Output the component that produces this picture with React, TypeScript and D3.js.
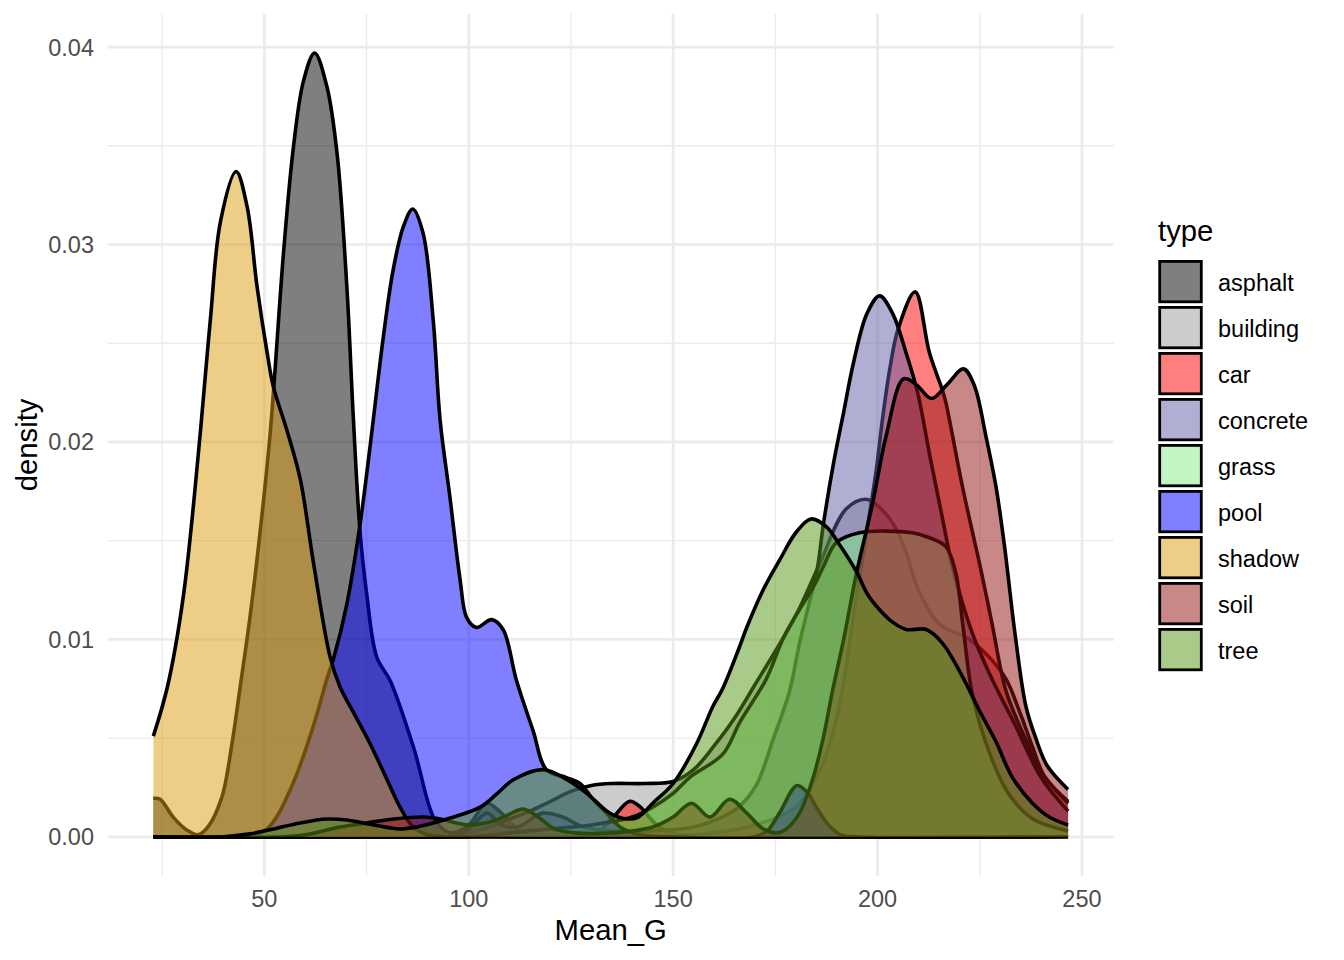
import React from 'react';
import { scaleLinear, area, line, curveCatmullRom, max, min } from 'd3';

type Pt = [number, number];

// factor order = drawing order
const types = ['asphalt', 'building', 'car', 'concrete', 'grass', 'pool', 'shadow', 'soil', 'tree'];
const fillColors = ['#000000', '#999999', '#ff0000', '#615da8', '#83eb83', '#0000ff', '#dd9b0f', '#911111', '#559515'];

const xTicks = [50, 100, 150, 200, 250];
const xMinor = [25, 75, 125, 175, 225];
const yTicks = [0, 0.01, 0.02, 0.03, 0.04];
const yMinor = [0.005, 0.015, 0.025, 0.035];

// density curves: [Mean_G, density]
const asphalt: Pt[] = [
  [22.85, 0.00195], [24.5, 0.0019], [27.7, 0.001], [31, 0.00035], [33.8, 0.0001], [36.2, 0.0005],
  [39.6, 0.002], [42, 0.0046], [44.1, 0.0076], [46.6, 0.0113], [49, 0.0155], [51.5, 0.0206],
  [54.7, 0.0296], [57.1, 0.0349], [59.6, 0.0383], [62.3, 0.0397], [65.3, 0.038], [67.8, 0.0346],
  [70.2, 0.0278], [71.8, 0.0211], [73.4, 0.0155], [75.1, 0.0122], [77.5, 0.0091], [80.8, 0.0079],
  [86.4, 0.0046], [92.2, 0.0007], [96, 0.0002], [100, 0.0006], [104.4, 0.0017], [108, 0.0012],
  [112, 0.0004], [118, 0.0001], [125, 0], [246.6, 0],
];

const building: Pt[] = [
  [22.85, 0], [95, 0], [100, 0.0002], [105, 0.0005], [110, 0.0009], [115, 0.0013], [120, 0.0018],
  [125, 0.0023], [130, 0.0026], [135, 0.0027], [143, 0.0027], [150, 0.0028], [155, 0.0034],
  [160, 0.0046], [165, 0.006], [170, 0.0077], [175, 0.0094], [180, 0.0112], [185.8, 0.0138],
  [192.3, 0.0166], [197.2, 0.0171], [200.4, 0.0167], [203.7, 0.0159], [207, 0.0144], [210, 0.0125],
  [215, 0.0108], [222.4, 0.01], [227.3, 0.0091], [231.4, 0.008], [235, 0.0062], [238, 0.0045],
  [241, 0.003], [246.6, 0.0018],
];

const car: Pt[] = [
  [22.85, 0], [128, 0], [132, 0.0003], [135, 0.0009], [139.4, 0.0018], [142, 0.0015], [145, 0.0008],
  [148, 0.0003], [152, 0.0001], [160, 0.0002], [170, 0.0006], [180, 0.0015], [185, 0.003],
  [188, 0.0045], [191, 0.007], [194, 0.011], [197, 0.015], [199.7, 0.0186], [201.3, 0.0213],
  [203, 0.0237], [205, 0.0257], [209.2, 0.0276], [212.7, 0.0245], [215.9, 0.0226], [216.7, 0.022],
  [220.8, 0.0177], [225.3, 0.0135], [228, 0.0108], [231.4, 0.0074], [236.3, 0.0049], [240, 0.0033],
  [246.6, 0.0017],
];

const concrete: Pt[] = [
  [22.85, 0], [95, 0], [100, 0.0004], [104.5, 0.0012], [108, 0.0006], [112, 0.0005], [118, 0.0012],
  [123, 0.001], [128, 0.0005], [135, 0.0003], [145, 0.0003], [155, 0.0005], [162, 0.001],
  [166, 0.0015], [170.3, 0.0026], [174.4, 0.0049], [178.5, 0.0074], [180.9, 0.0098], [183, 0.0116],
  [185.2, 0.0135], [186.8, 0.0159], [189.3, 0.019], [191.7, 0.0215], [194.1, 0.024], [197.4, 0.0265],
  [200.5, 0.0274], [203.7, 0.0265], [207, 0.0245], [209.8, 0.0225], [212.7, 0.0194], [216, 0.016],
  [218.3, 0.0137], [223.2, 0.0103], [227.3, 0.0083], [233.8, 0.0056], [240, 0.003], [246.6, 0.0013],
];

const grass: Pt[] = [
  [22.85, 0], [100, 0], [110, 0.0002], [120, 0.0004], [130, 0.0006], [140, 0.001], [145, 0.0015],
  [150, 0.0022], [154, 0.003], [162.2, 0.0042], [166.3, 0.0058], [172.8, 0.008], [176.8, 0.01],
  [180, 0.0112], [184.4, 0.0127], [187, 0.0138], [189.9, 0.0149], [195.6, 0.0154], [208.5, 0.0154],
  [212, 0.0152], [216.7, 0.0147], [219.1, 0.0134], [221, 0.0105], [223.2, 0.0072], [227.3, 0.0043],
  [232, 0.0022], [238, 0.0009], [246.6, 0.0003],
];

const pool: Pt[] = [
  [22.85, 0], [45, 0], [48, 0.0001], [50.7, 0.0004], [53, 0.001], [55.5, 0.002], [58, 0.0032],
  [60.4, 0.0046], [63, 0.0063], [65.3, 0.008], [66.9, 0.009], [70.2, 0.0118], [73.4, 0.0158],
  [76, 0.02], [79.1, 0.0253], [81.5, 0.0287], [84, 0.0309], [86.3, 0.0318], [88.8, 0.0306],
  [91.3, 0.0262], [93, 0.0211], [95.4, 0.0172], [97.9, 0.013], [99.5, 0.0111], [101.9, 0.0106],
  [105.6, 0.011], [108.4, 0.0105], [111.7, 0.0079], [115.7, 0.0054], [119, 0.0034], [123.9, 0.003],
  [127.2, 0.0027], [130.4, 0.0019], [133.7, 0.0012], [137, 0.0005], [142, 0.0001], [150, 0],
  [170, 0], [173, 0.0003], [176, 0.0012], [180.3, 0.0026], [183, 0.0022], [185, 0.0015],
  [188, 0.0006], [191, 0.0001], [195, 0], [246.6, 0],
];

const shadow: Pt[] = [
  [22.85, 0.0051], [26.3, 0.0076], [30.2, 0.0122], [34.4, 0.0206], [36.8, 0.0262], [39.3, 0.0312],
  [43.1, 0.0337], [45.8, 0.0319], [48.2, 0.0279], [50.7, 0.0245], [52.2, 0.0228], [55.5, 0.0206],
  [58.8, 0.0181], [62, 0.0139], [66.1, 0.0091], [68.5, 0.0076], [71.8, 0.0063], [75.9, 0.0047],
  [80, 0.0029], [83.2, 0.0015], [86.4, 0.0005], [90, 0.0001], [95, 0], [246.6, 0],
];

const soil: Pt[] = [
  [22.85, 0], [55, 0], [60, 0.0001], [68.5, 0.0005], [75, 0.0007], [81.6, 0.0009], [89, 0.001],
  [93, 0.0009], [100, 0.0006], [106, 0.0008], [109.5, 0.0011], [113.3, 0.0014], [117, 0.001],
  [121, 0.0004], [126, 0.0002], [135, 0.0002], [145, 0.0005], [150, 0.001], [154.5, 0.0017],
  [159, 0.001], [163.8, 0.0019], [168, 0.0012], [172, 0.0004], [175.5, 0.0002], [177.7, 0.0004],
  [180.9, 0.0012], [184.1, 0.0029], [186.6, 0.0049], [189, 0.0074], [191.7, 0.01], [194.9, 0.0134],
  [198.8, 0.0169], [202.1, 0.0203], [206.4, 0.0232], [209.5, 0.0229], [213.2, 0.0222], [217, 0.0229],
  [221, 0.0237], [223.6, 0.0229], [226.5, 0.0203], [229, 0.0177], [231, 0.0148], [233.8, 0.01],
  [236.3, 0.0066], [238.7, 0.005], [241.5, 0.0036], [246.6, 0.0024],
];

const tree: Pt[] = [
  [22.85, 0], [40, 0], [46.5, 0.00015], [52.3, 0.0004], [58.7, 0.0007], [65.3, 0.0009], [70.2, 0.00085],
  [76.7, 0.0006], [83.2, 0.0004], [87.3, 0.0005], [94.7, 0.0009], [102.8, 0.0015], [107, 0.0022],
  [111, 0.0029], [118.3, 0.0034], [124, 0.0029], [128.9, 0.0022], [133.8, 0.0013], [136.5, 0.001],
  [139, 0.0009], [141.5, 0.001], [145, 0.0017], [150, 0.0027], [155.7, 0.0047], [159.7, 0.0066],
  [162.1, 0.0075], [166.2, 0.0096], [168, 0.0106], [172, 0.0125], [176, 0.014], [180, 0.0154],
  [183.7, 0.0161], [187.5, 0.0157], [191, 0.0147], [194.9, 0.0134], [197.5, 0.0123], [200.5, 0.0115],
  [203.5, 0.0109], [207, 0.0105], [211.9, 0.0105], [215.9, 0.0098], [220.8, 0.0081], [224.9, 0.0064],
  [229, 0.0048], [233, 0.003], [237.9, 0.0017], [242, 0.001], [246.6, 0.0006],
];

const series: Pt[][] = [asphalt, building, car, concrete, grass, pool, shadow, soil, tree];

const FONT = '"Liberation Sans", Arial, Helvetica, sans-serif';

export default function App() {
  const width = 1344;
  const height = 960;
  const panel = { left: 107.6, right: 1113.8, top: 13.8, bottom: 876 };

  const all = series.flat();
  const xMin = min(all, (d) => d[0]) as number;
  const xMax = max(all, (d) => d[0]) as number;
  const yMax = max(all, (d) => d[1]) as number;
  const xPad = (xMax - xMin) * 0.05;

  const x = scaleLinear().domain([xMin - xPad, xMax + xPad]).range([panel.left, panel.right]);
  const y = scaleLinear().domain([-yMax * 0.05, yMax * 1.05]).range([panel.bottom, panel.top]);

  // smooth but centripetal, so flat zero stretches don't overshoot much
  const curve = curveCatmullRom.alpha(0.5);
  const yVal = (d: Pt) => y(d[1]);
  const fillPath = area<Pt>()
    .x((d) => x(d[0]))
    .y0(y(0))
    .y1(yVal)
    .curve(curve);
  const upperPath = line<Pt>()
    .x((d) => x(d[0]))
    .y(yVal)
    .curve(curve);

  const grid = '#ebebeb';
  const panelMidX = (panel.left + panel.right) / 2;
  const panelMidY = (panel.top + panel.bottom) / 2;

  return (
    <div style={{ position: 'absolute', left: 0, top: 0 }}>
      <svg width={width} height={height} style={{ display: 'block', background: '#fff' }} fontFamily={FONT}>
        <defs>
          <clipPath id="above-zero">
            <rect x={0} y={0} width={width} height={y(0) + 2} />
          </clipPath>
        </defs>
        {/* minor grid */}
        {xMinor.map((t) => (
          <line key={`xm-${t}`} x1={x(t)} x2={x(t)} y1={panel.top} y2={panel.bottom} stroke={grid} strokeWidth={1.35} />
        ))}
        {yMinor.map((t) => (
          <line key={`ym-${t}`} x1={panel.left} x2={panel.right} y1={y(t)} y2={y(t)} stroke={grid} strokeWidth={1.35} />
        ))}
        {/* major grid */}
        {xTicks.map((t) => (
          <line key={`xg-${t}`} x1={x(t)} x2={x(t)} y1={panel.top} y2={panel.bottom} stroke={grid} strokeWidth={2.7} />
        ))}
        {yTicks.map((t) => (
          <line key={`yg-${t}`} x1={panel.left} x2={panel.right} y1={y(t)} y2={y(t)} stroke={grid} strokeWidth={2.7} />
        ))}

        {/* densities, fill then upper outline per group */}
        <g clipPath="url(#above-zero)">
          {series.map((pts, i) => (
            <g key={types[i]}>
              <path d={fillPath(pts) ?? ''} fill={fillColors[i]} fillOpacity={0.5} stroke="none" />
              <path
                d={upperPath(pts) ?? ''}
                fill="none"
                stroke="#000"
                strokeWidth={3.6}
                strokeLinejoin="round"
              />
            </g>
          ))}
        </g>

        {/* axis labels */}
        {xTicks.map((t) => (
          <text key={`xl-${t}`} x={x(t)} y={906.5} textAnchor="middle" fontSize={23.5} fill="#4d4d4d">
            {t}
          </text>
        ))}
        {yTicks.map((t) => (
          <text key={`yl-${t}`} x={94} y={y(t) + 8.5} textAnchor="end" fontSize={23.5} fill="#4d4d4d">
            {t.toFixed(2)}
          </text>
        ))}
        <text x={panelMidX} y={940} textAnchor="middle" fontSize={29.3} fill="#000">
          Mean_G
        </text>
        <text
          transform={`translate(37, ${panelMidY}) rotate(-90)`}
          textAnchor="middle"
          fontSize={29.3}
          fill="#000"
        >
          density
        </text>

        {/* legend */}
        <text x={1158} y={241} fontSize={29.3} fill="#000">
          type
        </text>
        {types.map((t, i) => (
          <g key={`lg-${t}`} transform={`translate(0, ${46 * i})`}>
            <rect x={1159.7} y={261.4} width={41.6} height={40.4} fill="#fff" />
            <rect
              x={1159.7}
              y={261.4}
              width={41.6}
              height={40.4}
              fill={fillColors[i]}
              fillOpacity={0.5}
              stroke="#000"
              strokeWidth={2.8}
            />
            <text x={1218} y={291} fontSize={23.5} fill="#000">
              {t}
            </text>
          </g>
        ))}
      </svg>
    </div>
  );
}
